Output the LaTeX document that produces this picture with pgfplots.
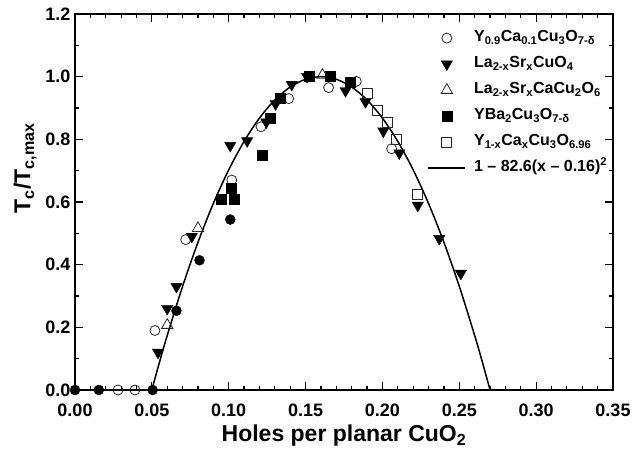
\documentclass[border=0pt]{standalone}
\usepackage{fontspec}
\setmainfont{Liberation Sans}
\usepackage{pgfplots}
\pgfplotsset{compat=1.18}
\begin{document}
\begin{tikzpicture}
\begin{axis}[
  width=538pt, height=376pt, scale only axis,
  xmin=0, xmax=0.35, ymin=0, ymax=1.2,
  clip=false,
  /pgf/number format/assume math mode=true,
  xtick={0,0.05,0.1,0.15,0.2,0.25,0.3,0.35},
  ytick={0,0.2,0.4,0.6,0.8,1.0,1.2},
  minor x tick num=4, minor y tick num=1,
  tick align=inside,
  major tick length=8pt, minor tick length=4pt,
  axis line style={line width=1.6pt},
  every tick/.style={line width=1.2pt, black},
  x tick label style={/pgf/number format/.cd, fixed, fixed zerofill, precision=2, /tikz/.cd,
     font=\fontsize{18}{20}\selectfont\bfseries, yshift=-10pt},
  y tick label style={/pgf/number format/.cd, fixed, fixed zerofill, precision=1, /tikz/.cd,
     font=\fontsize{18}{20}\selectfont\bfseries, xshift=-1pt},
  xlabel={Holes per planar CuO\textsubscript{2}},
  ylabel={T\textsubscript{c}/T\textsubscript{c,max}},
  xlabel style={font=\fontsize{23}{26}\selectfont\bfseries, yshift=-2pt},
  ylabel style={font=\fontsize{23}{26}\selectfont\bfseries, at={(ticklabel cs:0.59)}, yshift=2pt},
  legend cell align=left,
  legend style={draw=none, fill=none, at={(0.655,0.971)}, anchor=north west,
     font=\fontsize{16}{18}\selectfont\bfseries, row sep=0pt, column sep=6pt, inner sep=0pt,
     nodes={inner xsep=2pt, inner ysep=4.5pt, text height=12pt, text depth=5pt}},
]
% fit curve 1 - 82.6 (x-0.16)^2 (tabulated)
\addplot[line width=1.5pt, black, smooth, forget plot] coordinates {
(0.05,0.0005) (0.055,0.0893) (0.06,0.174) (0.07,0.3309) (0.08,0.4714) (0.09,0.5953)
(0.10,0.7026) (0.11,0.7935) (0.12,0.8678) (0.13,0.9257) (0.14,0.9670) (0.15,0.9917)
(0.16,1.0) (0.17,0.9917) (0.18,0.9670) (0.19,0.9257) (0.20,0.8678) (0.21,0.7935)
(0.22,0.7026) (0.23,0.5953) (0.24,0.4714) (0.25,0.3309) (0.26,0.174) (0.265,0.0893) (0.27,0.0005)};
% filled circles (not in legend)
\addplot[only marks, mark=*, mark size=5pt, black, forget plot] coordinates {
(0,0) (0.0155,0) (0.0505,0) (0.066,0.253) (0.081,0.414) (0.101,0.544)};
% Y0.9Ca0.1Cu3O7-d
\addplot[only marks, mark=o, mark size=5pt, black!85, mark options={line width=0.8pt, fill=white}] coordinates {
(0.028,0) (0.039,0) (0.052,0.19) (0.072,0.48) (0.102,0.67) (0.121,0.84) (0.139,0.93)
(0.165,0.965) (0.183,0.985) (0.206,0.77)};
\addlegendentry{Y\textsubscript{0.9}Ca\textsubscript{0.1}Cu\textsubscript{3}O\textsubscript{7-δ}}
% La2-xSrxCuO4
\addplot[only marks, mark=triangle*, mark size=6.5pt, black, mark options={rotate=180}] coordinates {
(0.054,0.12) (0.060,0.26) (0.066,0.33) (0.076,0.49) (0.101,0.78) (0.112,0.795)
(0.1245,0.855) (0.1305,0.913) (0.141,0.975) (0.151,1.0) (0.176,0.955) (0.189,0.92)
(0.2006,0.826) (0.211,0.756) (0.223,0.589) (0.237,0.483) (0.251,0.372)};
\addlegendentry{La\textsubscript{2-x}Sr\textsubscript{x}CuO\textsubscript{4}}
% La2-xSrxCaCu2O6
\addplot[only marks, mark=triangle, mark size=6.5pt, black!85, mark options={line width=0.8pt}] coordinates {
(0.060,0.207) (0.080,0.516) (0.161,1.005)};
\addlegendentry{La\textsubscript{2-x}Sr\textsubscript{x}CaCu\textsubscript{2}O\textsubscript{6}}
% YBa2Cu3O7-d
\addplot[only marks, mark=square*, mark size=5pt, black] coordinates {
(0.0952,0.608) (0.1035,0.608) (0.1013,0.644) (0.122,0.748) (0.127,0.868) (0.1336,0.932)
(0.1525,1.003) (0.166,1.003) (0.179,0.982)};
\addlegendentry{YBa\textsubscript{2}Cu\textsubscript{3}O\textsubscript{7-δ}}
% Y1-xCaxCu3O6.96
\addplot[only marks, mark=square, mark size=5pt, black!85, mark options={line width=0.8pt, fill=white}] coordinates {
(0.190,0.945) (0.1967,0.892) (0.2035,0.854) (0.209,0.80) (0.223,0.624)};
\addlegendentry{Y\textsubscript{1-x}Ca\textsubscript{x}Cu\textsubscript{3}O\textsubscript{6.96}}
\addlegendimage{line width=1.5pt, black, legend image code/.code={\draw[line width=1.5pt, black] (-0.35cm,0cm) -- (0.95cm,0cm);}}
\addlegendentry{1 – 82.6(x – 0.16)\textsuperscript{2}}
\end{axis}
\pgfresetboundingbox
\useasboundingbox ([shift={(-75pt,-68pt)}]current axis.south west) rectangle ([shift={(22pt,14pt)}]current axis.north east);
\end{tikzpicture}
\end{document}
